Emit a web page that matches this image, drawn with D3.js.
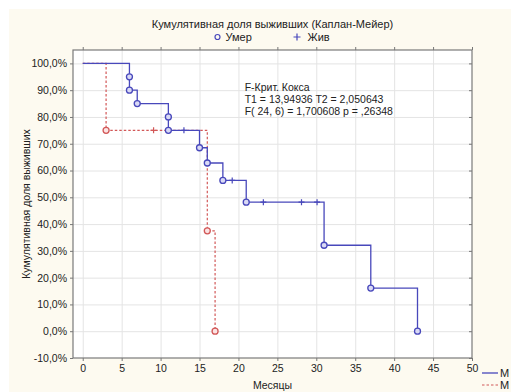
<!DOCTYPE html>
<meta charset="utf-8" />
<style>
  body {
    margin: 0;
    font-family: "Liberation Sans", Arial, sans-serif;
    background: #fff;
  }
  .grid line {
    stroke: #e4e4e4;
  }
  .grid .domain {
    display: none;
  }
  .axis text {
    fill: #222;
    font-size: 10.5px;
  }
  .axis line {
    stroke: #777;
  }
  .axis .domain {
    display: none;
  }
</style>
<body>
  <div class="container"></div>

  <script src="https://d3js.org/d3.v7.min.js"></script>
  <script>
    // ticks
    const xTicks = [0, 5, 10, 15, 20, 25, 30, 35, 40, 45, 50];
    const yTicks = [-10, 0, 10, 20, 30, 40, 50, 60, 70, 80, 90, 100];

    // group 1 (solid blue) - step curve, deaths, censored
    const g1Times = [0, 6, 6, 7, 11, 11, 15, 16, 18, 21, 31, 37, 43];
    const g1Surv = [100, 95, 90, 85, 80, 75, 68.5, 62.8, 56.3, 48.2, 32.1, 16.1, 0];
    const g1CensTimes = [13, 19.2, 23.2, 28.1, 30.1];
    const g1CensSurv = [75, 56.3, 48.2, 48.2, 48.2];

    // group 2 (dashed red)
    const g2Times = [0, 3, 16, 17];
    const g2Surv = [100, 75, 37.5, 0];
    const g2CensTimes = [9.1];
    const g2CensSurv = [75];

    const statLines = [
      "F-Крит. Кокса",
      "T1 = 13,94936 T2 = 2,050643",
      "F( 24, 6) = 1,700608 p = ,26348",
    ];

    const blue = "#4848bb",
      red = "#d25858";

    var W = 511,
      H = 392;
    var margin = { top: 50, right: 39, bottom: 34, left: 73 },
      width = W - margin.left - margin.right,
      height = H - margin.top - margin.bottom;

    var root = d3
      .select(".container")
      .append("svg")
      .attr("width", W)
      .attr("height", H);

    // cream panel
    root
      .append("rect")
      .attr("x", 9)
      .attr("y", 9)
      .attr("width", W - 9)
      .attr("height", H - 9)
      .attr("fill", "#fdfaf0");

    var svg = root
      .append("g")
      .attr("transform", "translate(" + margin.left + "," + margin.top + ")");

    let x = d3.scaleLinear().domain([-1.25, 50]).range([0, width]);
    let y = d3.scaleLinear().domain([-10, 105]).range([height, 0]);

    svg
      .append("rect")
      .attr("width", width)
      .attr("height", height)
      .attr("fill", "#fff");

    // grids
    svg
      .append("g")
      .attr("class", "grid")
      .attr("transform", "translate(0," + height + ")")
      .call(d3.axisBottom(x).tickValues(xTicks.slice(0, -1)).tickSize(-height).tickFormat(""));
    svg
      .append("g")
      .attr("class", "grid")
      .call(d3.axisLeft(y).tickValues(yTicks.slice(1)).tickSize(-width).tickFormat(""));

    // axes
    const pct = (d) => d.toFixed(1).replace(".", ",") + "%";
    svg
      .append("g")
      .attr("class", "axis")
      .call(d3.axisLeft(y).tickValues(yTicks).tickSize(3).tickPadding(3).tickFormat(pct));
    svg
      .append("g")
      .attr("class", "axis")
      .attr("transform", "translate(" + width + ",0)")
      .call(d3.axisRight(y).tickValues(yTicks).tickSize(-3).tickFormat(""));
    svg
      .append("g")
      .attr("class", "axis")
      .attr("transform", "translate(0," + height + ")")
      .call(d3.axisBottom(x).tickValues(xTicks).tickSize(3).tickPadding(4).tickFormat(d3.format("d")));
    svg
      .append("g")
      .attr("class", "axis")
      .call(d3.axisTop(x).tickValues(xTicks).tickSize(3).tickFormat(""));

    // frame
    svg
      .append("rect")
      .attr("width", width)
      .attr("height", height)
      .attr("fill", "none")
      .attr("stroke", "#7a7a7a")
      .attr("stroke-width", 1.2);

    // curves
    function toPts(t, s) {
      return t.map((d, i) => [d, s[i]]);
    }
    const step = d3
      .line()
      .x((d) => x(d[0]))
      .y((d) => y(d[1]))
      .curve(d3.curveStepAfter);

    svg
      .append("path")
      .datum(toPts(g2Times, g2Surv))
      .attr("d", step)
      .attr("fill", "none")
      .attr("stroke", red)
      .attr("stroke-width", 1.2)
      .attr("stroke-dasharray", "2.5,2");

    svg
      .append("path")
      .datum(toPts(g1Times, g1Surv))
      .attr("d", step)
      .attr("fill", "none")
      .attr("stroke", blue)
      .attr("stroke-width", 1.3);

    // death markers (skip the start point)
    function deaths(t, s, col, fill) {
      svg
        .selectAll(null)
        .data(toPts(t, s).slice(1))
        .enter()
        .append("circle")
        .attr("cx", (d) => x(d[0]))
        .attr("cy", (d) => y(d[1]))
        .attr("r", 3)
        .attr("fill", fill)
        .attr("stroke", col)
        .attr("stroke-width", 1.3);
    }
    deaths(g2Times, g2Surv, red, "#fbe3e3");
    deaths(g1Times, g1Surv, blue, "#d9d9f5");

    // censored markers
    function censored(t, s, col) {
      svg
        .selectAll(null)
        .data(toPts(t, s))
        .enter()
        .append("path")
        .attr("d", (d) => {
          const cx = x(d[0]),
            cy = y(d[1]);
          return "M" + (cx - 3) + "," + cy + "H" + (cx + 3) + "M" + cx + "," + (cy - 3) + "V" + (cy + 3);
        })
        .attr("stroke", col)
        .attr("stroke-width", 1.2);
    }
    censored(g2CensTimes, g2CensSurv, red);
    censored(g1CensTimes, g1CensSurv, blue);

    // stats text
    svg
      .append("g")
      .selectAll("text")
      .data(statLines)
      .enter()
      .append("text")
      .attr("x", x(20.8))
      .attr("y", (d, i) => 41 + i * 12)
      .attr("font-size", "10.5px")
      .attr("fill", "#222")
      .text((d) => d);

    // title + legend
    const cx = margin.left + width / 2;
    root
      .append("text")
      .attr("x", cx)
      .attr("y", 28)
      .attr("text-anchor", "middle")
      .attr("font-size", "11px")
      .attr("fill", "#222")
      .text("Кумулятивная доля выживших (Каплан-Мейер)");

    root
      .append("circle")
      .attr("cx", cx - 55)
      .attr("cy", 37)
      .attr("r", 2.5)
      .attr("fill", "none")
      .attr("stroke", blue)
      .attr("stroke-width", 1.2);
    root
      .append("text")
      .attr("x", cx - 47)
      .attr("y", 41)
      .attr("font-size", "11px")
      .attr("fill", "#222")
      .text("Умер");
    root
      .append("path")
      .attr("d", "M" + (cx + 21) + ",37H" + (cx + 28) + "M" + (cx + 24.5) + ",33.5V40.5")
      .attr("stroke", blue)
      .attr("stroke-width", 1.2);
    root
      .append("text")
      .attr("x", cx + 35)
      .attr("y", 41)
      .attr("font-size", "11px")
      .attr("fill", "#222")
      .text("Жив");

    // axis titles
    root
      .append("text")
      .attr("text-anchor", "middle")
      .attr("transform", "translate(26," + (margin.top + height / 2) + ") rotate(-90)")
      .attr("dy", "0.35em")
      .attr("font-size", "10.5px")
      .attr("fill", "#222")
      .text("Кумулятивная доля выживших");

    root
      .append("text")
      .attr("x", cx)
      .attr("y", 389)
      .attr("text-anchor", "middle")
      .attr("font-size", "10.5px")
      .attr("fill", "#222")
      .text("Месяцы");

    // bottom-right legend (cut at the edge)
    const lg = root.append("g").attr("transform", "translate(482,373)");
    lg.append("line").attr("x1", 0).attr("x2", 16).attr("stroke", blue).attr("stroke-width", 1.3);
    lg.append("text").attr("x", 18).attr("y", 4).attr("font-size", "11px").attr("fill", "#222").text("M");
    lg.append("line")
      .attr("x1", 0)
      .attr("x2", 16)
      .attr("y1", 12)
      .attr("y2", 12)
      .attr("stroke", red)
      .attr("stroke-width", 1.2)
      .attr("stroke-dasharray", "2.5,2");
    lg.append("text").attr("x", 18).attr("y", 16).attr("font-size", "11px").attr("fill", "#222").text("M");
  </script>
</body>
